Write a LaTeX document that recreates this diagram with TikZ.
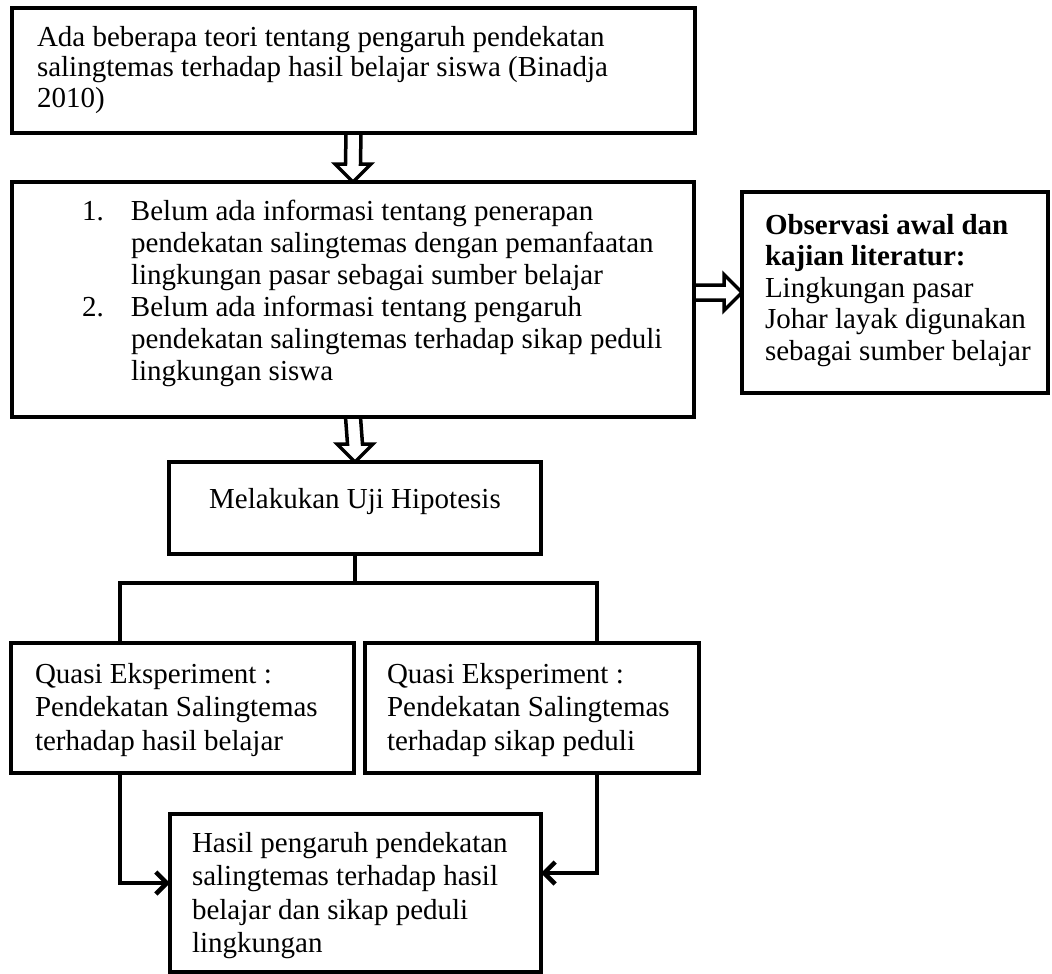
\documentclass[tikz,border=0pt]{standalone}
\usepackage{fontspec}
\setmainfont{Liberation Serif}
\usetikzlibrary{calc,arrows.meta}
\pgfdeclarelayer{bg}
\pgfsetlayers{bg,main}
\begin{document}
\begin{tikzpicture}[x=1pt,y=-1pt,
  box/.style={draw=black, line width=4.5pt, fill=white, inner sep=0pt, outer sep=0pt},
  txt/.style={anchor=north west, inner sep=0pt, outer sep=0pt, align=left},
  hollow/.style={draw=black, line width=3.5pt, fill=white, line join=miter},
  conn/.style={draw=black, line width=4.5pt},
  tipped/.style={-{Straight Barb[length=11pt,width=22pt]}}
]
\useasboundingbox (0,0) rectangle (1052,974);

% boxes
\node[box, minimum width=683pt, minimum height=125pt] (b1) at (353.5,70.5) {};
\node[box, minimum width=682pt, minimum height=235pt] (b2) at (353,299.5) {};
\node[box, minimum width=306pt, minimum height=201pt] (b3) at (895,292.5) {};
\node[box, minimum width=372pt, minimum height=92pt] (b4) at (355,508) {};
\node[box, minimum width=343pt, minimum height=130pt] (b5) at (182.5,708) {};
\node[box, minimum width=334pt, minimum height=130pt] (b6) at (532,708) {};
\node[box, minimum width=371pt, minimum height=158pt] (b7) at (355.5,893) {};

% texts (first baseline = top + 0.7 x line spacing)
\node[txt, font=\fontsize{29}{30.5}\selectfont] (t1) at (37,24.65)
  {\strut Ada beberapa teori tentang pengaruh pendekatan\\
   salingtemas terhadap hasil belajar siswa (Binadja\\
   2010)};
\node[txt, font=\fontsize{29}{32}\selectfont] (t2) at (82,197.6)
  {\strut\makebox[49pt][l]{1.}Belum ada informasi tentang penerapan\\
   \hspace*{49pt}pendekatan salingtemas dengan pemanfaatan\\
   \hspace*{49pt}lingkungan pasar sebagai sumber belajar\\
   \makebox[49pt][l]{2.}Belum ada informasi tentang pengaruh\\
   \hspace*{49pt}pendekatan salingtemas terhadap sikap peduli\\
   \hspace*{49pt}lingkungan siswa};
\node[txt, font=\fontsize{29}{31.5}\selectfont] (t3) at (765,211.95)
  {\strut\textbf{Observasi awal dan}\\
   \textbf{kajian literatur:}\\
   Lingkungan pasar\\
   Johar layak digunakan\\
   sebagai sumber belajar};
\node[anchor=base, inner sep=0pt, font=\fontsize{29}{30}\selectfont] (t4) at (355,508)
  {Melakukan Uji Hipotesis};
\node[txt, font=\fontsize{29}{33.5}\selectfont] (t5) at (35,659.6)
  {\strut Quasi Eksperiment :\\
   Pendekatan Salingtemas\\
   terhadap hasil belajar};
\node[txt, font=\fontsize{29}{33.5}\selectfont] (t6) at (387,659.6)
  {\strut Quasi Eksperiment :\\
   Pendekatan Salingtemas\\
   terhadap sikap peduli};
\node[txt, font=\fontsize{29}{33.5}\selectfont] (t7) at (192,828.6)
  {\strut Hasil pengaruh pendekatan\\
   salingtemas terhadap hasil\\
   belajar dan sikap peduli\\
   lingkungan};

\coordinate (jl) at (120,583);
\coordinate (jr) at (597,583);

\begin{pgfonlayer}{bg}
\fill[white] (0,0) rectangle (1052,974);
% hollow block arrows
\draw[hollow] ($(b1.south)+(-7.5,0)$) -- ($(b2.north)+(-7.5,-18)$) -- ($(b2.north)+(-18,-18)$)
  -- (b2.north) -- ($(b2.north)+(18,-18)$) -- ($(b2.north)+(7.5,-18)$) -- ($(b1.south)+(7.5,0)$);
\draw[hollow] ($(b2.south)+(-7.5,0)$) -- ($(b4.north)+(-7.5,-18)$) -- ($(b4.north)+(-18,-18)$)
  -- (b4.north) -- ($(b4.north)+(18,-18)$) -- ($(b4.north)+(7.5,-18)$) -- ($(b2.south)+(7.5,0)$);
\draw[hollow] ($(b2.east|-b3.west)+(0,-7.5)$) -- ($(b3.west)+(-18,-7.5)$) -- ($(b3.west)+(-18,-18)$)
  -- (b3.west) -- ($(b3.west)+(-18,18)$) -- ($(b3.west)+(-18,7.5)$) -- ($(b2.east|-b3.west)+(0,7.5)$);
% tree connectors
\draw[conn] (b4.south) -- (b4.south |- jl);
\draw[conn] (jl |- b5.north) -- (jl) -- (jr) -- (jr |- b6.north);
\draw[conn, tipped] (jl |- b5.south) |- ($(b7.west)+(0,-10)$);
\draw[conn, tipped] (jr |- b6.south) |- ($(b7.east)+(0,-20)$);
\end{pgfonlayer}
\end{tikzpicture}
\end{document}
